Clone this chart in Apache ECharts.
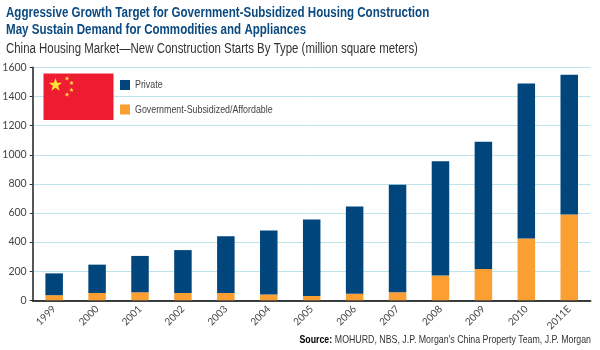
<!DOCTYPE html>
<html>
<head>
    <meta charset="utf-8">
    <title>China Housing Market</title>
    <script src="https://cdn.jsdelivr.net/npm/echarts@6/dist/echarts.min.js"></script>
    <style>
        html, body { margin: 0; padding: 0; background: #fff; }
        #chart1 { width: 600px; height: 350px; }
    </style>
</head>
<body>
<div id="chart1"></div>
<script type="text/javascript">
    var years = ['1999', '2000', '2001', '2002', '2003', '2004', '2005', '2006', '2007', '2008', '2009', '2010', '2011E'];
    var affordable = [35, 50, 55, 50, 50, 40, 30, 45, 55, 170, 215, 425, 590];
    var priv = [150, 195, 250, 295, 390, 440, 525, 600, 740, 785, 875, 1065, 960];
    var legendNames = ['Private', 'Government-Subsidized/Affordable'];

    var sans = '"Liberation Sans", sans-serif';
    var small = 'Lato, "Liberation Sans", sans-serif';

    // five pointed star for the flag
    function star(cx, cy, r, rot) {
        var pts = [];
        for (var i = 0; i < 10; i++) {
            var rad = i % 2 ? r * 0.4 : r;
            var a = rot + i * Math.PI / 5 - Math.PI / 2;
            pts.push([cx + rad * Math.cos(a), cy + rad * Math.sin(a)]);
        }
        return {
            type: 'polygon',
            z: 6,
            shape: { points: pts },
            style: { fill: '#ffdf3a' }
        };
    }

    // legend labels are squeezed like the headline, so the legend only draws the swatches
    function legendLabel(name, y) {
        return {
            type: 'text', x: 135, y: y, scaleX: 0.77,
            style: { text: name, font: '11.5px ' + sans, fill: '#444444' }
        };
    }

    var myChart1 = echarts.init(document.getElementById('chart1'));

    myChart1.setOption({
        animation: false,
        legend: {
            orient: 'vertical',
            left: 120, top: 80,
            padding: 0,
            itemWidth: 10, itemHeight: 10,
            itemGap: 14.5,
            icon: 'rect',
            data: legendNames,
            formatter: function () { return ''; }
        },
        grid: { left: 32.7, right: 9.3, top: 67.5, bottom: 49.7, outerBoundsMode: 'none' },
        xAxis: {
            type: 'category',
            data: years,
            axisLine: { lineStyle: { color: '#000000', width: 1.5 } },
            axisTick: { length: 3, lineStyle: { color: '#333333', width: 1 } },
            axisLabel: {
                rotate: 45, interval: 0, margin: 7,
                fontFamily: small, fontSize: 10, color: '#444444'
            }
        },
        yAxis: {
            type: 'value',
            min: 0, max: 1600, interval: 200,
            axisLine: { show: true, lineStyle: { color: '#555555', width: 2 } },
            axisTick: { show: true, length: 3, lineStyle: { color: '#333333' } },
            axisLabel: {
                margin: 6, fontFamily: small, fontSize: 10.5, color: '#444444',
                formatter: function (v) { return String(v); }
            },
            splitLine: { lineStyle: { color: '#bde3ec', width: 1 } }
        },
        series: [
            {
                name: legendNames[1],
                type: 'bar', stack: 'total', barWidth: 17.5,
                itemStyle: { color: '#fb9f33' },
                data: affordable
            },
            {
                name: legendNames[0],
                type: 'bar', stack: 'total', barWidth: 17.5,
                itemStyle: { color: '#00457c' },
                data: priv
            }
        ],
        graphic: [
            // narrow headline type: regular font squeezed sideways
            {
                type: 'text', x: 6, y: 5, scaleX: 0.826,
                style: {
                    text: 'Aggressive Growth Target for Government-Subsidized Housing Construction\nMay Sustain Demand for Commodities and Appliances',
                    font: 'bold 14px ' + sans, fill: '#0b4a80', lineHeight: 17
                }
            },
            {
                type: 'text', x: 6, y: 42, scaleX: 0.817,
                style: {
                    text: 'China Housing Market\u2014New Construction Starts By Type (million square meters)',
                    font: '14px ' + sans, fill: '#333333'
                }
            },
            {
                type: 'text', x: 591, y: 334, scaleX: 0.8,
                style: {
                    text: '{b|Source:} {n|MOHURD, NBS, J.P. Morgan\'s China Property Team, J.P. Morgan}',
                    align: 'right',
                    rich: {
                        b: { font: 'bold 11px ' + sans, fill: '#000000' },
                        n: { font: '11px ' + sans, fill: '#333333' }
                    }
                }
            },
            legendLabel(legendNames[0], 79),
            legendLabel(legendNames[1], 103.5),
            {
                type: 'rect',
                z: 5,
                shape: { x: 43.5, y: 73.5, width: 70, height: 46.5 },
                style: { fill: '#ee1c30' }
            },
            star(55.5, 85, 7, 0),
            star(67, 78.5, 2.5, 0.5),
            star(71.5, 83, 2.5, 1),
            star(71.5, 90, 2.5, 0),
            star(67, 94.5, 2.5, 0.5)
        ]
    });
</script>
</body>
</html>
